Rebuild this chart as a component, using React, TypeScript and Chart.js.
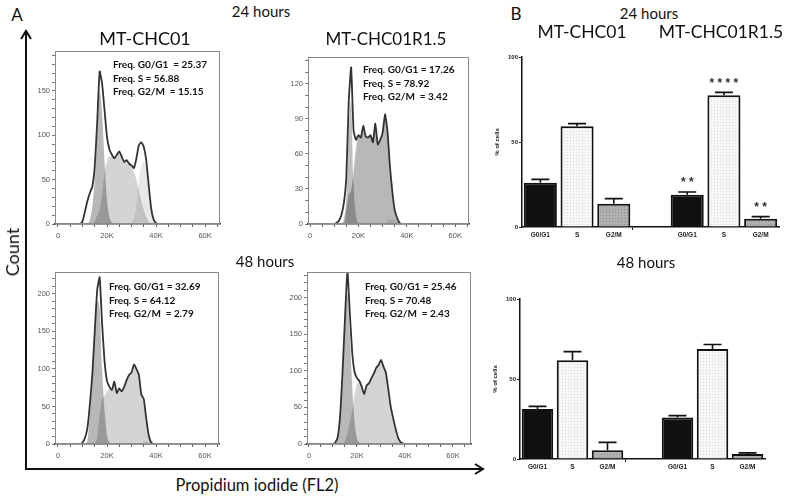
import React, { useEffect, useRef } from 'react';
import { Chart, registerables } from 'chart.js';
Chart.register(...registerables);

// ---------- Histogram data (PI fluorescence, bins in thousands) ----------
const binsK = [8, 9, 10, 11, 12, 13, 14, 15, 16, 17, 18, 19, 20, 21, 22, 23, 24, 25, 26, 27, 28, 29, 30, 31, 32, 33, 34, 35, 36, 37, 38, 39, 40, 41, 42];
const histXTicks = ['0', '20K', '40K', '60K'];

// 24 h, MT-CHC01
const tlCounts = [0, 0, 3, 14, 26, 35, 42, 65, 115, 172, 158, 128, 98, 84, 78, 74, 78, 82, 76, 70, 72, 68, 66, 63, 74, 89, 92, 87, 72, 44, 18, 5, 1, 0, 0];
const tlG1 = [0, 0, 0, 0, 0, 5, 20, 50, 100, 150, 125, 70, 28, 8, 2, 0, 0, 0, 0, 0, 0, 0, 0, 0, 0, 0, 0, 0, 0, 0, 0, 0, 0, 0, 0];
const tlS = [0, 0, 0, 0, 0, 0, 0, 3, 10, 17, 33, 58, 70, 76, 76, 74, 78, 81, 76, 70, 72, 68, 64, 58, 50, 38, 26, 16, 8, 3, 0, 0, 0, 0, 0];
const tlG2 = [0, 0, 0, 0, 0, 0, 0, 0, 0, 0, 0, 0, 0, 0, 0, 0, 0, 0, 0, 0, 0, 0, 2, 6, 22, 50, 66, 70, 62, 40, 18, 5, 1, 0, 0];
// 24 h, MT-CHC01R1.5
const trCounts = [0, 0, 0, 1, 3, 8, 18, 40, 105, 134, 80, 72, 76, 74, 84, 75, 74, 76, 70, 86, 68, 72, 78, 94, 80, 50, 28, 12, 5, 1, 0, 0, 0, 0, 0];
const trG1 = [0, 0, 0, 0, 0, 0, 5, 22, 80, 105, 35, 8, 1, 0, 0, 0, 0, 0, 0, 0, 0, 0, 0, 0, 0, 0, 0, 0, 0, 0, 0, 0, 0, 0, 0];
const trS = [0, 0, 0, 0, 0, 0, 0, 12, 25, 29, 45, 64, 75, 74, 82, 75, 74, 76, 70, 84, 68, 72, 78, 92, 76, 46, 24, 9, 3, 0, 0, 0, 0, 0, 0];
const trG2 = [0, 0, 0, 0, 0, 0, 0, 0, 0, 0, 0, 0, 0, 0, 0, 0, 0, 0, 0, 0, 0, 0, 0, 0, 3, 4, 4, 3, 2, 1, 0, 0, 0, 0, 0];
// 48 h, MT-CHC01
const blCounts = [0, 0, 2, 8, 21, 52, 92, 150, 205, 222, 160, 110, 84, 76, 72, 83, 68, 74, 70, 76, 85, 92, 95, 106, 100, 92, 66, 60, 34, 12, 2, 0, 0, 0, 0];
const blG1 = [0, 0, 0, 0, 5, 40, 85, 145, 190, 180, 100, 45, 12, 2, 0, 0, 0, 0, 0, 0, 0, 0, 0, 0, 0, 0, 0, 0, 0, 0, 0, 0, 0, 0, 0];
const blS = [0, 0, 0, 0, 0, 0, 0, 0, 10, 40, 60, 64, 70, 74, 72, 83, 68, 74, 70, 76, 85, 92, 95, 105, 99, 90, 64, 56, 30, 9, 1, 0, 0, 0, 0];
const blG2 = [0, 0, 0, 0, 0, 0, 0, 0, 0, 0, 0, 0, 0, 0, 0, 0, 0, 0, 0, 0, 0, 0, 0, 0, 0, 0, 1, 4, 4, 3, 1, 0, 0, 0, 0];
// 48 h, MT-CHC01R1.5
const brCounts = [0, 0, 0, 2, 10, 40, 100, 172, 236, 180, 125, 98, 90, 86, 78, 68, 80, 83, 90, 96, 104, 108, 115, 106, 98, 76, 52, 36, 22, 10, 3, 1, 0, 0, 0];
const brG1 = [0, 0, 0, 0, 8, 38, 95, 165, 205, 150, 80, 30, 8, 2, 0, 0, 0, 0, 0, 0, 0, 0, 0, 0, 0, 0, 0, 0, 0, 0, 0, 0, 0, 0, 0];
const brS = [0, 0, 0, 0, 0, 0, 0, 5, 15, 30, 45, 68, 82, 84, 78, 68, 80, 83, 90, 96, 104, 108, 114, 105, 96, 74, 50, 33, 19, 7, 1, 0, 0, 0, 0];
const brG2 = [0, 0, 0, 0, 0, 0, 0, 0, 0, 0, 0, 0, 0, 0, 0, 0, 0, 0, 0, 0, 0, 0, 0, 0, 0, 0, 0, 2, 3, 3, 2, 1, 0, 0, 0];

const freqLabelsTL = ['Freq. G0/G1  = ', 'Freq. S = ', 'Freq. G2/M  = '];
const freqLabels = ['Freq. G0/G1 = ', 'Freq. S = ', 'Freq. G2/M  = '];
const freqTL = ['25.37', '56.88', '15.15'];
const freqTR = ['17.26', '78.92', '3.42'];
const freqBL = ['32.69', '64.12', '2.79'];
const freqBR = ['25.46', '70.48', '2.43'];

// ---------- Bar chart data (% of cells) ----------
const phaseLabels = ['G0/G1', 'S', 'G2/M', '', 'G0/G1', 'S', 'G2/M'];
const pct24Ctrl = [26, 59.2, 13.7];
const err24Ctrl = [2, 1.6, 3];
const pct24Res = [19, 77.5, 4.9];
const err24Res = [1.6, 1.7, 1.2];
const stars24 = ['', '', '', '', '* *', '* * * *', '* *'];
const pct48Ctrl = [31.2, 61.7, 5.4];
const err48Ctrl = [1.7, 5.4, 5];
const pct48Res = [26, 68.7, 3.1];
const err48Res = [1.1, 2.9, 0.7];
const stars48 = ['', '', '', '', '', '', ''];

const TXT = 'Lato, "Open Sans", sans-serif';
const TICKF = '"Liberation Sans", Arial, sans-serif';

type Rect = { left: number; top: number; width: number; height: number };

const PL = 40, PT = 8, PR = 8, PB = 28;

function Histogram(props: {
  plot: Rect; xMin: number; xMax: number; yMax: number; yLab: number;
  counts: number[]; g1: number[]; s: number[]; g2: number[];
  shade: { g1: string; s: string; g2: string };
}) {
  const ref = useRef<HTMLCanvasElement>(null);
  const { plot } = props;
  const cw = plot.width + PL + PR;
  const ch = plot.height + PT + PB;
  useEffect(() => {
    const pts = (v: number[]) => binsK.map((x, i) => ({ x, y: v[i] }));
    const box = {
      id: 'box',
      afterDraw(chart: any) {
        const { ctx, chartArea: a } = chart;
        ctx.save();
        ctx.strokeStyle = '#8a8a8a';
        ctx.lineWidth = 1;
        ctx.strokeRect(a.left + 0.5, a.top + 0.5, a.right - a.left - 1, a.bottom - a.top - 1);
        ctx.restore();
      },
    };
    const fillSet = (label: string, v: number[], c: string, order: number) => ({
      label, data: pts(v), borderColor: 'rgba(0,0,0,0)', borderWidth: 0, backgroundColor: c,
      fill: 'origin', pointRadius: 0, cubicInterpolationMode: 'monotone', order,
    });
    const chart = new Chart(ref.current as HTMLCanvasElement, {
      type: 'line',
      data: {
        datasets: [
          { label: 'Count', data: pts(props.counts), borderColor: '#333', borderWidth: 1.8, pointRadius: 0, fill: false, tension: 0.15, order: 0 } as any,
          fillSet('G0/G1', props.g1, props.shade.g1, 1),
          fillSet('G2/M', props.g2, props.shade.g2, 2),
          fillSet('S', props.s, props.shade.s, 3),
        ],
      },
      options: {
        responsive: false,
        animation: false,
        layout: { padding: { left: 0, top: PT, right: PR, bottom: 0 } },
        plugins: { legend: { display: false }, tooltip: { enabled: false } },
        scales: {
          x: {
            type: 'linear', min: props.xMin, max: props.xMax,
            afterFit: (s: any) => { s.height = PB; },
            ticks: {
              stepSize: 5, includeBounds: false, autoSkip: false, maxRotation: 0, padding: 4,
              font: { family: TICKF, size: 7.5 }, color: '#555',
              callback: (v: any) => (Number(v) % 20 === 0 ? histXTicks[Number(v) / 20] : ''),
            },
            grid: { drawOnChartArea: false, tickLength: 3, color: '#666' },
            border: { color: '#333', width: 1.5 },
          },
          y: {
            min: 0, max: props.yMax,
            afterFit: (s: any) => { s.width = PL; },
            ticks: {
              stepSize: 10, includeBounds: false, autoSkip: false, padding: 2,
              font: { family: TICKF, size: 7.5 }, color: '#555',
              callback: (v: any) => (Number(v) % props.yLab === 0 ? String(v) : ''),
            },
            grid: { drawOnChartArea: false, tickLength: 3, color: '#777' },
            border: { color: '#8a8a8a', width: 1 },
          },
        },
      } as any,
      plugins: [box],
    });
    return () => chart.destroy();
  }, []);
  return (
    <canvas ref={ref} width={cw} height={ch}
      style={{ position: 'absolute', left: plot.left - PL, top: plot.top - PT, width: cw, height: ch }} />
  );
}

const BL_ = 46, BT = 8, BR_ = 6, BB = 20;

function makePattern(bg: string, dot: string) {
  const c = document.createElement('canvas');
  c.width = 3; c.height = 3;
  const x = c.getContext('2d') as CanvasRenderingContext2D;
  x.fillStyle = bg; x.fillRect(0, 0, 3, 3);
  x.fillStyle = dot; x.fillRect(1, 1, 1, 1);
  return x.createPattern(c, 'repeat');
}

function BarPanel(props: { plot: Rect; ctrl: number[]; res: number[]; ctrlErr: number[]; resErr: number[]; stars: string[] }) {
  const ref = useRef<HTMLCanvasElement>(null);
  const { plot } = props;
  const cw = plot.width + BL_ + BR_;
  const ch = plot.height + BT + BB;
  useEffect(() => {
    const values = [...props.ctrl, null, ...props.res];
    const errs = [...props.ctrlErr, null, ...props.resErr];
    const sFill = makePattern('#f7f7f7', '#d8d8d8');
    const gFill = makePattern('#b0b0b0', '#8f8f8f');
    const fills = ['#111111', sFill, gFill, '#ffffff', '#111111', sFill, gFill];
    const errPlugin = {
      id: 'errbars',
      afterDatasetsDraw(chart: any) {
        const { ctx } = chart;
        const ys = chart.scales.y;
        const meta = chart.getDatasetMeta(0);
        ctx.save();
        meta.data.forEach((bar: any, i: number) => {
          const v = values[i];
          const e = errs[i];
          if (v == null || e == null) return;
          const y0 = ys.getPixelForValue(v);
          const y1 = ys.getPixelForValue(v + e);
          ctx.strokeStyle = '#111';
          ctx.lineWidth = 1.6;
          ctx.beginPath();
          ctx.moveTo(bar.x, y0);
          ctx.lineTo(bar.x, y1);
          ctx.moveTo(bar.x - 9, y1);
          ctx.lineTo(bar.x + 9, y1);
          ctx.stroke();
          const st = props.stars[i];
          if (st) {
            ctx.fillStyle = '#333';
            ctx.font = 'bold 12px "Liberation Sans", Arial, sans-serif';
            ctx.textAlign = 'center';
            ctx.textBaseline = 'middle';
            ctx.fillText(st, bar.x, y1 - 9);
          }
        });
        ctx.restore();
      },
    };
    const chart = new Chart(ref.current as HTMLCanvasElement, {
      type: 'bar',
      data: {
        labels: phaseLabels,
        datasets: [{
          label: '% of cells', data: values, backgroundColor: fills, borderColor: '#111',
          borderWidth: 2, borderSkipped: 'bottom', barPercentage: 0.9, categoryPercentage: 1,
        }],
      },
      options: {
        responsive: false,
        animation: false,
        layout: { padding: { left: 0, top: BT, right: BR_, bottom: 0 } },
        plugins: { legend: { display: false }, tooltip: { enabled: false } },
        scales: {
          x: {
            afterFit: (s: any) => { s.height = BB; },
            ticks: { font: { family: TICKF, size: 6.5, weight: 'bold' }, color: '#222', padding: 1, maxRotation: 0, autoSkip: false },
            grid: { drawOnChartArea: false, tickLength: 3, tickColor: (c: any) => (c.index === 3 ? '#222' : 'rgba(0,0,0,0)') },
            border: { color: '#111', width: 1.5 },
          },
          y: {
            min: 0, max: 100,
            afterFit: (s: any) => { s.width = BL_; },
            ticks: { stepSize: 50, font: { family: TICKF, size: 6, weight: 'bold' }, color: '#222', padding: 1 },
            grid: { drawOnChartArea: false, tickLength: 3, color: '#222' },
            border: { color: '#111', width: 1.5 },
            title: { display: true, text: '% of cells', font: { family: TICKF, size: 6, weight: 'bold' }, color: '#222', padding: { top: 18, bottom: 0 } },
          },
        },
      } as any,
      plugins: [errPlugin],
    });
    return () => chart.destroy();
  }, []);
  return (
    <canvas ref={ref} width={cw} height={ch}
      style={{ position: 'absolute', left: plot.left - BL_, top: plot.top - BT, width: cw, height: ch }} />
  );
}

function T(props: { x: number; y: number; size: number; text: string; rot?: number; bold?: boolean; left?: boolean }) {
  return (
    <div style={{
      position: 'absolute', left: props.x, top: props.y, whiteSpace: 'pre',
      transform: `translate(${props.left ? '0' : '-50%'}, -50%)` + (props.rot ? ` rotate(${props.rot}deg)` : ''),
      fontFamily: TXT, fontSize: props.size, fontWeight: props.bold ? 700 : 400, color: '#111', lineHeight: 1,
    }}>{props.text}</div>
  );
}

function FreqBox(props: { x: number; y: number; labels: string[]; values: string[] }) {
  return (
    <>
      {props.labels.map((l, i) => (
        <T key={i} x={props.x} y={props.y + i * 13.5} size={10} bold left text={l + props.values[i]} />
      ))}
    </>
  );
}

const lightShade = { g1: 'rgba(0,0,0,0.28)', s: 'rgba(0,0,0,0.17)', g2: 'rgba(0,0,0,0.09)' };
const darkShade = { g1: 'rgba(0,0,0,0.25)', s: 'rgba(0,0,0,0.28)', g2: 'rgba(0,0,0,0.09)' };

export default function App() {
  return (
    <div style={{ position: 'absolute', left: 0, top: 0, width: 786, height: 498, background: '#fff', overflow: 'hidden' }}>
      {/* Panel A frame */}
      <svg width={786} height={498} style={{ position: 'absolute', left: 0, top: 0 }}>
        <polyline points="26,31 26,469 483,469" fill="none" stroke="#111" strokeWidth={2} />
        <polyline points="21,39 26,31 31,39" fill="none" stroke="#111" strokeWidth={2} />
        <polyline points="475,464 483,469 475,474" fill="none" stroke="#111" strokeWidth={2} />
      </svg>

      <Histogram plot={{ left: 55, top: 51, width: 165, height: 173 }} xMin={-1.22} xMax={66.1} yMax={195} yLab={50}
        counts={tlCounts} g1={tlG1} s={tlS} g2={tlG2} shade={lightShade} />
      <Histogram plot={{ left: 308, top: 57, width: 161, height: 167 }} xMin={-0.83} xMax={65.7} yMax={143} yLab={30}
        counts={trCounts} g1={trG1} s={trS} g2={trG2} shade={darkShade} />
      <Histogram plot={{ left: 55, top: 272, width: 164, height: 172 }} xMin={-1.22} xMax={65.7} yMax={229} yLab={50}
        counts={blCounts} g1={blG1} s={blS} g2={blG2} shade={lightShade} />
      <Histogram plot={{ left: 307, top: 272, width: 164, height: 172 }} xMin={-0.83} xMax={67.5} yMax={235} yLab={50}
        counts={brCounts} g1={brG1} s={brS} g2={brG2} shade={lightShade} />

      <FreqBox x={113} y={64} labels={freqLabelsTL} values={freqTL} />
      <FreqBox x={363} y={69} labels={freqLabels} values={freqTR} />
      <FreqBox x={109} y={286} labels={freqLabels} values={freqBL} />
      <FreqBox x={365} y={286} labels={freqLabels} values={freqBR} />

      <BarPanel plot={{ left: 521.5, top: 57, width: 257, height: 170 }} ctrl={pct24Ctrl} res={pct24Res}
        ctrlErr={err24Ctrl} resErr={err24Res} stars={stars24} />
      <BarPanel plot={{ left: 520, top: 299, width: 245, height: 160 }} ctrl={pct48Ctrl} res={pct48Res}
        ctrlErr={err48Ctrl} resErr={err48Res} stars={stars48} />

      <T x={17} y={14} size={17} text="A" />
      <T x={516} y={13} size={17} text="B" />
      <T x={261} y={11} size={15} text="24 hours" />
      <T x={145} y={37.5} size={18} text="MT-CHC01" />
      <T x={386} y={37.5} size={17} text="MT-CHC01R1.5" />
      <T x={265} y={261} size={15} text="48 hours" />
      <T x={649} y={13} size={15} text="24 hours" />
      <T x={582} y={32} size={17.5} text="MT-CHC01" />
      <T x={721} y={32} size={17.5} text="MT-CHC01R1.5" />
      <T x={646} y={262} size={15} text="48 hours" />
      <T x={12} y={252} size={18} rot={-90} text="Count" />
      <T x={257} y={485} size={16.5} text="Propidium iodide (FL2)" />
    </div>
  );
}
